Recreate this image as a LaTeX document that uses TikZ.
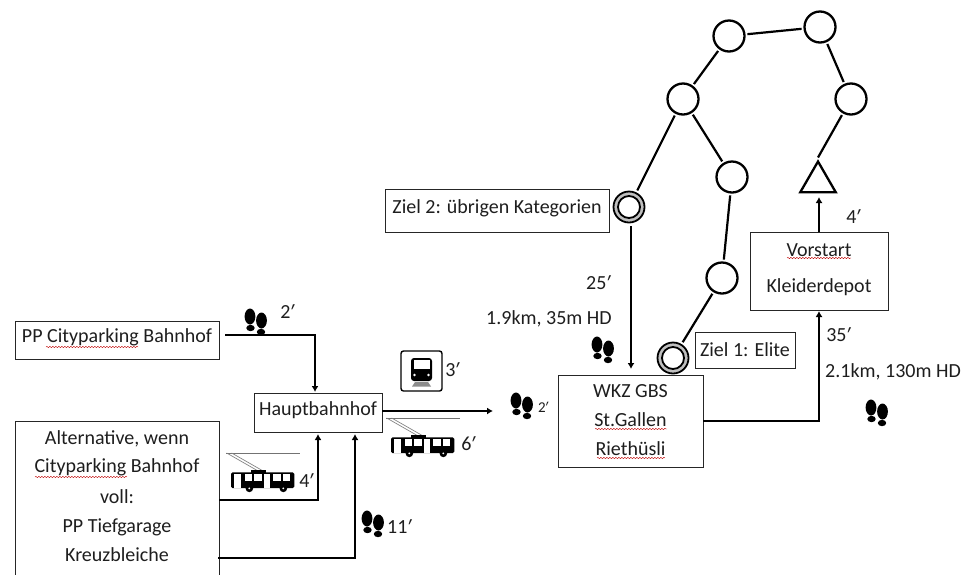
\documentclass[tikz,border=0pt]{standalone}
\usepackage{fontspec}
\setmainfont{Carlito}
\newfontfamily\primefont{Liberation Sans}
\newcommand{\prm}{\kern-1.5pt{\primefont\addfontfeature{FakeSlant=0.2}′}\kern-1pt}
\usetikzlibrary{shapes.geometric,decorations.pathmorphing,arrows.meta}
\definecolor{ink}{HTML}{1E1E1E}
\tikzset{
  lbl/.style={text=ink,font=\fontsize{20}{24}\selectfont,inner sep=0pt},
  boxn/.style={draw=black!85,line width=0.9pt,lbl,align=center,inner sep=0pt},
  stopn/.style={circle,draw=black,line width=2.3pt,minimum size=31pt,inner sep=0pt,outer sep=3pt},
  tgt/.style={circle,draw=black,line width=1.8pt,minimum size=31pt,inner sep=0pt,outer sep=3pt,fill=black!25},
  tgtin/.style={circle,draw=black,line width=1.8pt,minimum size=22pt,inner sep=0pt,fill=white},
  edgel/.style={line width=2.2pt,black},
  arr/.style={line width=2.3pt,black,-{Latex[length=6pt,width=7pt]}},
  squig/.style={draw=red!75!black,line width=0.4pt,decorate,decoration={snake,amplitude=0.7pt,segment length=3pt}},
  feet/.pic={
    \fill[black] (-5,-5.5) ellipse [x radius=5.4,y radius=8];
    \fill[black] (-4.5,6) ellipse [x radius=4.2,y radius=3.2];
    \fill[black] (6.5,-1.5) ellipse [x radius=5.4,y radius=8];
    \fill[black] (6,10) ellipse [x radius=4.2,y radius=3.2];
  },
  trolley/.pic={
    \draw[black!55,line width=0.5pt] (-15,0) -- (207,0);
    \draw[black!50,line width=0.7pt] (-13,0) -- (85,56);
    \draw[black!50,line width=0.7pt] (2,0) -- (100,56);
    \fill[black] (60,52) rectangle (105,60);
    \fill[black,rounded corners=1.5pt] (0,58) rectangle (190,105);
    \fill[white] (8,64) rectangle (30,105);
    \fill[white] (42,64) rectangle (64,84);
    \fill[white] (70,64) rectangle (92,84);
    \fill[white] (100,62) rectangle (118,105);
    \fill[white] (126,64) rectangle (150,84);
    \fill[white] (155,64) rectangle (178,84);
    \fill[black] (55,106) circle (11.5);
    \fill[black] (157,106) circle (11.5);
    \fill[white] (55,106) circle (3);
    \fill[white] (157,106) circle (3);
  },
}
\begin{document}
\begin{tikzpicture}[x=1pt,y=-1pt]
\useasboundingbox (0,0) rectangle (965,574);
\clip (0,0) rectangle (965,574);

% boxes
\node[boxn,minimum width=204pt,minimum height=38pt] (pp) at (117,340) {};
\node[lbl] (pptxt) at (117,337) {PP Cityparking Bahnhof};
\node[boxn,minimum width=204pt,minimum height=170pt] (alt) at (117,506) {};
\node[lbl] (a1) at (117,439) {Alternative, wenn};
\node[lbl] (a2) at (117,467) {Cityparking Bahnhof};
\node[lbl] (a3) at (117,497) {voll:};
\node[lbl] (a4) at (117,527) {PP Tiefgarage};
\node[lbl] (a5) at (117,555) {Kreuzbleiche};
\node[boxn,minimum width=128pt,minimum height=39pt] (hb) at (318,412.5) {};
\node[lbl] (hbt) at (318,410) {Hauptbahnhof};
\node[boxn,minimum width=145pt,minimum height=92pt] (wkz) at (630.5,421) {};
\node[lbl] (w1) at (630.5,391) {WKZ GBS};
\node[lbl] (w2) at (630.5,420) {St.Gallen};
\node[lbl] (w3) at (630.5,449) {Riethüsli};
\node[boxn,minimum width=100pt,minimum height=36pt] (z1) at (745,350) {Ziel 1: Elite};
\node[boxn,minimum width=138pt,minimum height=78pt] (vs) at (819,271) {};
\node[lbl] (v1) at (819,250) {Vorstart};
\node[lbl] (v2) at (819,287) {Kleiderdepot};
\node[boxn,minimum width=224pt,minimum height=43pt] (z2) at (497,210.5) {};
\node[lbl] (z2t) at (497,208) {Ziel 2: übrigen Kategorien};

% red spell-check underlines
\draw[squig] (46,347) -- (138,347);
\draw[squig] (35,477) -- (127,477);
\draw[squig] (595,429) -- (667,429);
\draw[squig] (597,458) -- (665,458);
\draw[squig] (787,258) -- (851,258);

% course
\node[stopn] (c1) at (729,36) {};
\node[stopn] (c2) at (820,27) {};
\node[stopn] (c3) at (851,99) {};
\node[stopn] (c4) at (683,99) {};
\node[stopn] (c5) at (732,177) {};
\node[stopn] (c6) at (722,278) {};
\node[tgt] (t2) at (629,207) {};
\node[tgtin] (t2i) at (629,207) {};
\node[tgt] (t1) at (673,358) {};
\node[tgtin] (t1i) at (673,358) {};
\node[regular polygon,regular polygon sides=3,draw=black,line width=2.3pt,minimum size=41pt,inner sep=0pt,outer sep=2pt] (tri) at (818,182) {};

\draw[edgel] (c1) -- (c2);
\draw[edgel] (c2) -- (c3);
\draw[edgel] (c3) -- (tri.north);
\draw[edgel] (c1) -- (c4);
\draw[edgel] (c4) -- (t2);
\draw[edgel] (c4) -- (c5);
\draw[edgel] (c5) -- (c6);
\draw[edgel] (c6) -- (t1);

% connectors
\coordinate (ppout) at (225,335);
\coordinate (ppin) at (315,392);
\draw[arr] (ppout) -| (ppin);
\coordinate (hbarr) at (493,411);
\draw[arr] (hb.east |- hbarr) -- (hbarr);
\coordinate (alt1) at (219,500);
\coordinate (alt1in) at (318,434);
\draw[arr] (alt1) -| (alt1in);
\coordinate (alt2) at (218,558);
\coordinate (alt2in) at (355,434);
\draw[arr] (alt2) -| (alt2in);
\coordinate (z2out) at (631,226);
\coordinate (z2in) at (631,369);
\draw[arr] (z2out) -- (z2in);
\coordinate (wkzout) at (703,421);
\coordinate (wkzin) at (819,311);
\draw[arr] (wkzout) -| (wkzin);
\coordinate (vsout) at (819,232);
\coordinate (vsin) at (819,197);
\draw[arr] (vsout) -- (vsin);

% icons
\pic at (255,322) {feet};
\pic at (372,524) {feet};
\pic at (521,406) {feet};
\pic at (602,350) {feet};
\pic at (876,413) {feet};
\pic[scale=1/3] at (231,453) {trolley};
\pic[scale=1/3] at (391,418) {trolley};

% train
\draw[black,line width=1.4pt,rounded corners=2.5pt] (401,351) rectangle (442,391);
\fill[black,rounded corners=3pt] (411,358) rectangle (432,381);
\fill[white] (413.5,360) rectangle (429.5,369);
\fill[white] (414.5,375) circle (1.4);
\fill[white] (428.5,375) circle (1.4);
\fill[black!45] (412,386.5) -- (415,382) -- (428,382) -- (431,386.5) -- cycle;

% labels
\node[lbl] (l1) at (286,312) {2\prm};
\node[lbl] (l2) at (451,370) {3\prm};
\node[lbl] (l3) at (467,444) {6\prm};
\node[lbl] (l4) at (305,481) {4\prm};
\node[lbl] (l5) at (398,527) {11\prm};
\node[lbl,font=\fontsize{15}{18}\selectfont] (l6) at (542,407) {2\prm};
\node[lbl] (l7) at (837,335) {35\prm};
\node[lbl,anchor=west] (l8) at (825,372) {2.1km, 130m HD};
\node[lbl,anchor=west] (l9) at (486,319) {1.9km, 35m HD};
\node[lbl] (l10) at (597,283) {25\prm};
\node[lbl] (l11) at (852,217) {4\prm};
\end{tikzpicture}
\end{document}
